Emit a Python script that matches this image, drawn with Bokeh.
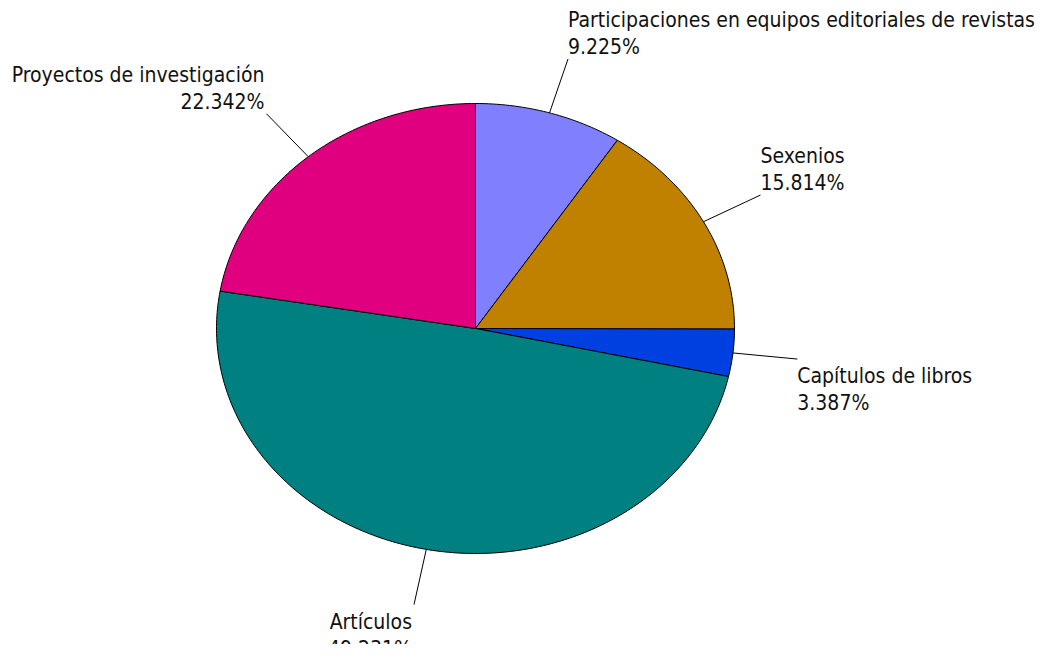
import numpy as np
from bokeh.plotting import figure
from bokeh.models import Range1d, ColumnDataSource
from bokeh.core.properties import value
from bokeh.embed import file_html
from bokeh.resources import INLINE

# ---- data (clockwise from 12 o'clock) ----
categories = ["Participaciones en equipos editoriales de revistas", "Sexenios",
              "Capítulos de libros", "Artículos", "Proyectos de investigación"]
percentages = [9.225, 15.814, 3.387, 49.231, 22.342]
colors = ["#8080FF", "#C08000", "#0040E0", "#008080", "#E0007F"]

# ---- layout ----
W, H = 1038, 644
CX, CY = 475.0, 328.0       # pie centre (screen px)
RX, RY = 259.0, 225.0       # elliptical radii
LEAD = 1.25                 # leader line outer factor
FONT = "DejaVu Sans Condensed"
FS = "21px"

p = figure(width=W, height=H, output_backend="svg", toolbar_location=None,
           x_range=Range1d(0, W), y_range=Range1d(H, 0),
           min_border=0, outline_line_color=None)
p.axis.visible = False
p.grid.visible = False
p.background_fill_color = "white"
p.border_fill_color = "white"


def ell(t, f=1.0):
    return CX + f * RX * np.sin(t), CY - f * RY * np.cos(t)


vals = np.array(percentages, dtype=float)
frac = vals / vals.sum()
ends = np.cumsum(frac) * 2 * np.pi
starts = ends - frac * 2 * np.pi

xs, ys = [], []
for a0, a1 in zip(starts, ends):
    n = max(int((a1 - a0) / (2 * np.pi) * 400), 8)
    t = np.linspace(a0, a1, n)
    ex, ey = ell(t)
    xs.append([CX] + list(ex) + [CX])
    ys.append([CY] + list(ey) + [CY])

p.patches(xs=xs, ys=ys, fill_color=colors, line_color="black", line_width=1)

# leader lines and labels
mids = (starts + ends) / 2
lx0, ly0 = ell(mids, 1.0)
lx1, ly1 = ell(mids, LEAD)
p.segment(x0=lx0, y0=ly0, x1=lx1, y1=ly1, line_color="black", line_width=1)

name_x, name_y, pct_x, pct_y, aligns, pct_txt = [], [], [], [], [], []
for m, x1, y1, v in zip(mids, lx1, ly1, percentages):
    right = np.sin(m) >= 0
    top = np.cos(m) > 0
    xx = x1 if right else x1 - 2
    if top:
        ny, py = y1 - 39, y1 - 12
    else:
        ny, py = y1 + 17, y1 + 44
    name_x.append(xx); pct_x.append(xx)
    name_y.append(ny); pct_y.append(py)
    aligns.append("left" if right else "right")
    pct_txt.append("%.3f%%" % v)

src = ColumnDataSource(dict(nx=name_x, ny=name_y, px=pct_x, py=pct_y,
                            name=categories, pct=pct_txt, align=aligns))
p.text(x="nx", y="ny", text="name", source=src, text_align="align",
       text_baseline="middle", text_font=value(FONT), text_font_size=FS,
       text_color="#111111")
p.text(x="px", y="py", text="pct", source=src, text_align="align",
       text_baseline="middle", text_font=value(FONT), text_font_size=FS,
       text_color="#111111")

open("out.html", "w").write(file_html(p, INLINE))
